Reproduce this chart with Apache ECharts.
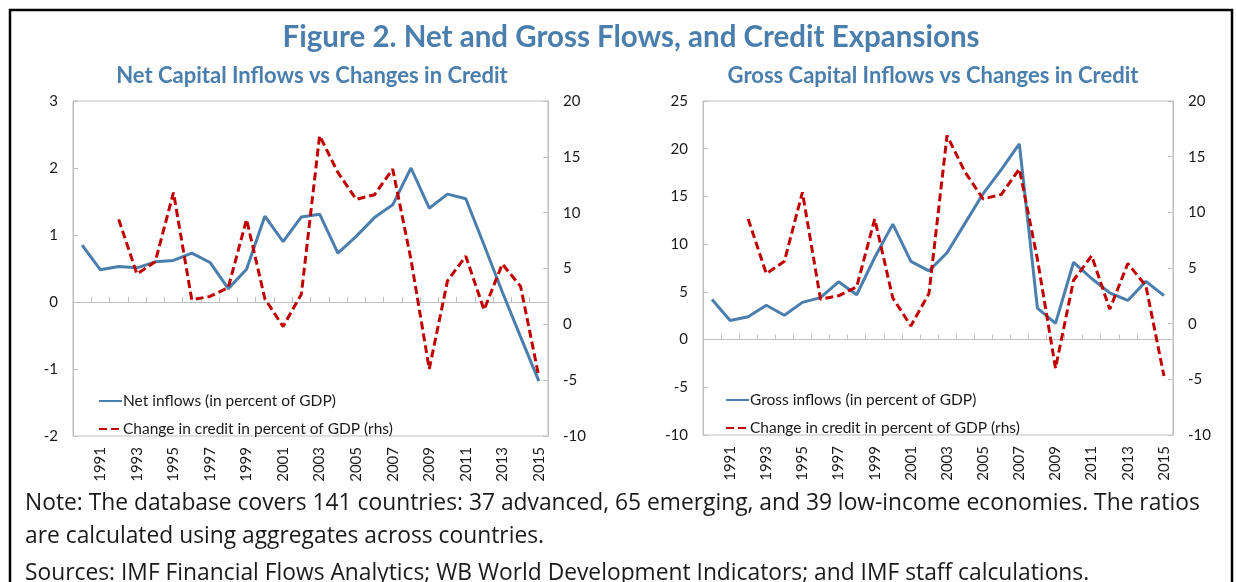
<!DOCTYPE html>
<html>
<head>
<meta charset="utf-8">
<script src="https://cdn.jsdelivr.net/npm/echarts@6/dist/echarts.min.js"></script>
<style>
  html, body { margin: 0; padding: 0; background: #fff; }
  #main { width: 1236px; height: 582px; }
</style>
</head>
<body>
<div id="main"></div>
<script>
var years = ['1990', '1991', '1992', '1993', '1994', '1995', '1996', '1997', '1998', '1999',
    '2000', '2001', '2002', '2003', '2004', '2005', '2006', '2007', '2008', '2009',
    '2010', '2011', '2012', '2013', '2014', '2015'];
var netInflows = [0.85, 0.48, 0.53, 0.51, 0.60, 0.62, 0.73, 0.59, 0.20, 0.49,
    1.28, 0.90, 1.27, 1.31, 0.73, 0.98, 1.26, 1.45, 2.00, 1.40,
    1.61, 1.54, 0.85, 0.15, -0.52, -1.18];
var grossInflows = [4.2, 2.0, 2.4, 3.6, 2.55, 3.9, 4.4, 6.05, 4.7, 8.6,
    12.1, 8.2, 7.2, 9.1, 12.2, 15.3, 17.8, 20.5, 3.3, 1.7,
    8.1, 6.4, 4.9, 4.1, 6.1, 4.6];
var creditChange = [null, null, 9.4, 4.5, 5.6, 11.8, 2.2, 2.5, 3.3, 9.4,
    2.3, -0.2, 2.7, 16.9, 13.6, 11.2, 11.6, 13.9, 5.8, -4.0,
    3.9, 6.1, 1.3, 5.4, 3.4, -4.7];

var netName = 'Net inflows (in percent of GDP)';
var grossName = 'Gross inflows (in percent of GDP)';
var creditName = 'Change in credit in percent of GDP (rhs)';

var blue = '#4A7EAD';
var red = '#C00000';
var frame = '#BFBFBF';
var txt = '#1a1a1a';
var font = 'Lato';

var myChart = echarts.init(document.getElementById('main'));

function makeX(gridIndex, zeroIdx) {
    return [{
        type: 'category',
        gridIndex: gridIndex,
        data: years,
        boundaryGap: true,
        axisLine: { onZero: true, onZeroAxisIndex: zeroIdx, lineStyle: { color: frame, width: 1 } },
        axisTick: { show: true, inside: true, length: 5, interval: 0, lineStyle: { color: frame } },
        axisLabel: { show: false },
        splitLine: { show: false }
    }, {
        type: 'category',
        gridIndex: gridIndex,
        position: 'bottom',
        data: years,
        axisLine: { show: false, onZero: false },
        axisTick: { show: false },
        axisLabel: {
            rotate: 90,
            margin: 11,
            fontFamily: font,
            fontSize: 15,
            color: txt,
            interval: function (i) { return i % 2 === 1; }
        },
        splitLine: { show: false }
    }];
}

function makeY(gridIndex, pos, min, max, step) {
    return {
        type: 'value',
        gridIndex: gridIndex,
        position: pos,
        min: min,
        max: max,
        interval: step,
        axisLine: { show: true, lineStyle: { color: frame } },
        axisTick: { show: true, inside: true, length: 5, lineStyle: { color: frame } },
        axisLabel: { fontFamily: font, fontSize: 15, color: txt, margin: 15 },
        splitLine: { show: false }
    };
}

function lineSeries(name, data, xi, yi, color, dashed) {
    return {
        name: name,
        type: 'line',
        xAxisIndex: xi,
        yAxisIndex: yi,
        data: data,
        symbol: 'none',
        connectNulls: false,
        lineStyle: { color: color, width: 3, type: dashed ? [8, 4] : 'solid' },
        itemStyle: { color: color },
        z: dashed ? 3 : 2,
        animation: false
    };
}

function noteText(str, top) {
    return {
        type: 'text',
        left: 25, top: top,
        style: { text: str, fontFamily: 'Open Sans', fontSize: 22.8, fill: txt }
    };
}

var legendBase = {
    orient: 'vertical',
    itemWidth: 23, itemHeight: 14, itemGap: 12,
    itemStyle: { opacity: 0 },
    textStyle: { fontFamily: font, fontSize: 15.5, color: txt, padding: [0, 0, 0, -4] }
};

var option = {
    animation: false,
    title: [{
        text: 'Figure 2. Net and Gross Flows, and Credit Expansions',
        left: 626, top: 17, textAlign: 'center',
        textStyle: { fontFamily: font, fontSize: 29.5, fontWeight: 'bold', color: blue }
    }, {
        text: 'Net Capital Inflows vs Changes in Credit',
        left: 307, top: 60, textAlign: 'center',
        textStyle: { fontFamily: font, fontSize: 22, fontWeight: 'bold', color: blue }
    }, {
        text: 'Gross Capital Inflows vs Changes in Credit',
        left: 928, top: 60, textAlign: 'center',
        textStyle: { fontFamily: font, fontSize: 22, fontWeight: 'bold', color: blue }
    }],
    grid: [
        { left: 73, top: 101, width: 475, height: 335, show: true, borderColor: frame, borderWidth: 1, backgroundColor: 'transparent' },
        { left: 703, top: 101, width: 470, height: 334, show: true, borderColor: frame, borderWidth: 1, backgroundColor: 'transparent' }
    ],
    legend: [
        echarts.util.merge({ data: [netName, creditName], left: 93, top: 388 }, legendBase),
        echarts.util.merge({ data: [grossName, creditName], left: 720, top: 387 }, legendBase)
    ],
    xAxis: makeX(0, 0).concat(makeX(1, 2)),
    yAxis: [
        makeY(0, 'left', -2, 3, 1),
        makeY(0, 'right', -10, 20, 5),
        makeY(1, 'left', -10, 25, 5),
        makeY(1, 'right', -10, 20, 5)
    ],
    series: [
        lineSeries(netName, netInflows, 0, 0, blue, false),
        lineSeries(creditName, creditChange, 0, 1, red, true),
        lineSeries(grossName, grossInflows, 2, 2, blue, false),
        lineSeries(creditName, creditChange, 2, 3, red, true)
    ],
    graphic: [{
        type: 'rect',
        shape: { x: 10, y: 10, width: 1222, height: 600 },
        style: { fill: 'none', stroke: '#000', lineWidth: 2.5 },
        silent: true
    },
    noteText('Note: The database covers 141 countries: 37 advanced, 65 emerging, and 39 low-income economies. The ratios', 492),
    noteText('are calculated using aggregates across countries.', 525),
    noteText('Sources: IMF Financial Flows Analytics; WB World Development Indicators; and IMF staff calculations.', 562)
    ]
};

myChart.setOption(option);
</script>
</body>
</html>
